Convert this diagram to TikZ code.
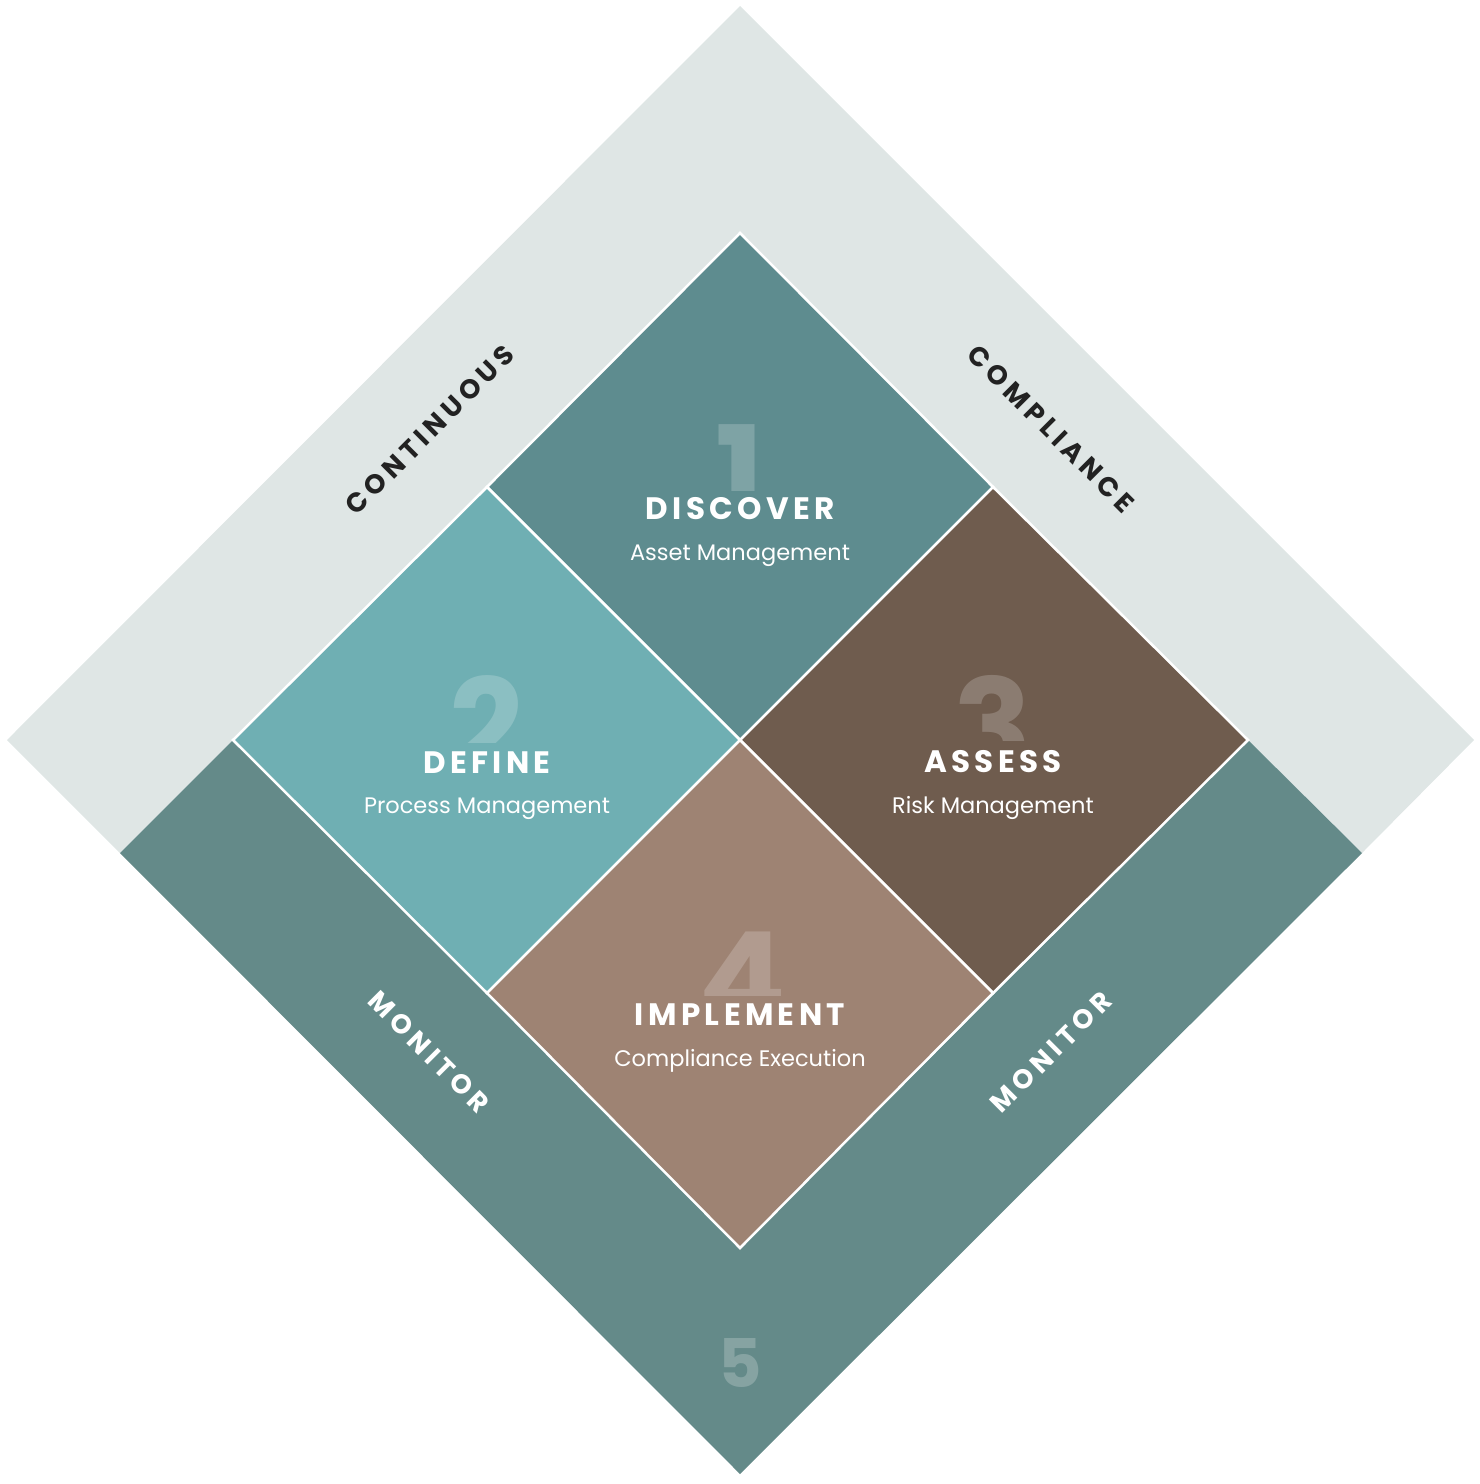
\documentclass[tikz,border=0pt]{standalone}
\usepackage{fontspec}
\setmainfont{Poppins}
\newfontfamily\titlefont[LetterSpace=14]{Poppins}
\newfontfamily\bandfont[LetterSpace=18]{Poppins}
\definecolor{bandgray}{HTML}{DFE6E5}
\definecolor{bandteal}{HTML}{648A89}
\definecolor{cdiscover}{HTML}{5E8C8F}
\definecolor{cdefine}{HTML}{6FAFB3}
\definecolor{cassess}{HTML}{6F5C4E}
\definecolor{cimplement}{HTML}{9E8373}
\definecolor{darktext}{HTML}{222222}
\tikzset{
  cell/.style={draw=white, line width=2.5pt, line join=miter},
  bignum/.style={anchor=base, inner sep=0pt, text=white, text opacity=0.2, font=\fontsize{130}{130}\selectfont\bfseries},
  title/.style={anchor=base, inner sep=0pt, text=white, font=\fontsize{31}{31}\selectfont\titlefont\bfseries},
  subtitle/.style={anchor=base, inner sep=0pt, text=white, font=\fontsize{22.5}{22.5}\selectfont},
  bandlabel/.style={inner sep=0pt, font=\fontsize{27}{27}\selectfont\bandfont\bfseries},
}
\begin{document}
\begin{tikzpicture}[x=1pt,y=-1pt]
\useasboundingbox (0,0) rectangle (1480,1484);
% outer vertices
\coordinate (T) at (740,6);
\coordinate (L) at (7,740);
\coordinate (R) at (1474,740);
\coordinate (B) at (740,1474);
\coordinate (bl) at (120,853);
\coordinate (br) at (1362,853);
% inner diamond
\coordinate (iT) at (740,233);
\coordinate (iL) at (233,740);
\coordinate (iR) at (1248,740);
\coordinate (iB) at (740,1248);
\coordinate (C) at (740,740);
\coordinate (mTL) at (487,487);
\coordinate (mTR) at (993,487);
\coordinate (mBL) at (487,993);
\coordinate (mBR) at (993,993);
% bands
\fill[bandgray] (T) -- (L) -- (bl) -- (iL) -- (iT) -- (iR) -- (br) -- (R) -- cycle;
\fill[bandteal] (iL) -- (bl) -- (B) -- (br) -- (iR) -- (iB) -- cycle;
% cells
\path[cell, fill=cdiscover] (iT) -- (mTR) -- (C) -- (mTL) -- cycle;
\path[cell, fill=cdefine] (mTL) -- (C) -- (mBL) -- (iL) -- cycle;
\path[cell, fill=cassess] (mTR) -- (iR) -- (mBR) -- (C) -- cycle;
\path[cell, fill=cimplement] (C) -- (mBR) -- (iB) -- (mBL) -- cycle;
% numbers (lower parts hidden behind the titles)
\begin{scope}
  \clip (640,380) rectangle (840,490);
  \node[bignum] (n1) at (740,519) {1};
\end{scope}
\begin{scope}
  \clip (387,633) rectangle (587,742);
  \node[bignum] (n2) at (487,772) {2};
\end{scope}
\begin{scope}
  \clip (893,633) rectangle (1093,740);
  \node[bignum] (n3) at (993,772) {3};
\end{scope}
\begin{scope}
  \clip (642,886) rectangle (842,995);
  \node[bignum] (n4) at (742,1025) {4};
\end{scope}
\node[anchor=base, inner sep=0pt, text=white, text opacity=0.22, font=\fontsize{67}{67}\selectfont\bfseries] (n5) at (740,1387) {5};
% titles
\node[title] (t1) at (740,519) {DISCOVER};
\node[subtitle] (s1) at (740,560) {Asset Management};
\node[title] (t2) at (487,773) {DEFINE};
\node[subtitle] (s2) at (487,813) {Process Management};
\node[title] (t3) at (993,772) {ASSESS};
\node[subtitle] (s3) at (993,813) {Risk Management};
\node[title] (t4) at (740,1025) {IMPLEMENT};
\node[subtitle] (s4) at (740,1066) {Compliance Execution};
% band labels
\node[bandlabel, text=darktext, rotate=45] (lc) at (430,430) {CONTINUOUS};
\node[bandlabel, text=darktext, rotate=-45] (lp) at (1051,429) {COMPLIANCE};
\node[bandlabel, text=white, rotate=-45] (lm1) at (429,1052) {MONITOR};
\node[bandlabel, text=white, rotate=45] (lm2) at (1051,1052) {MONITOR};
\end{tikzpicture}
\end{document}
